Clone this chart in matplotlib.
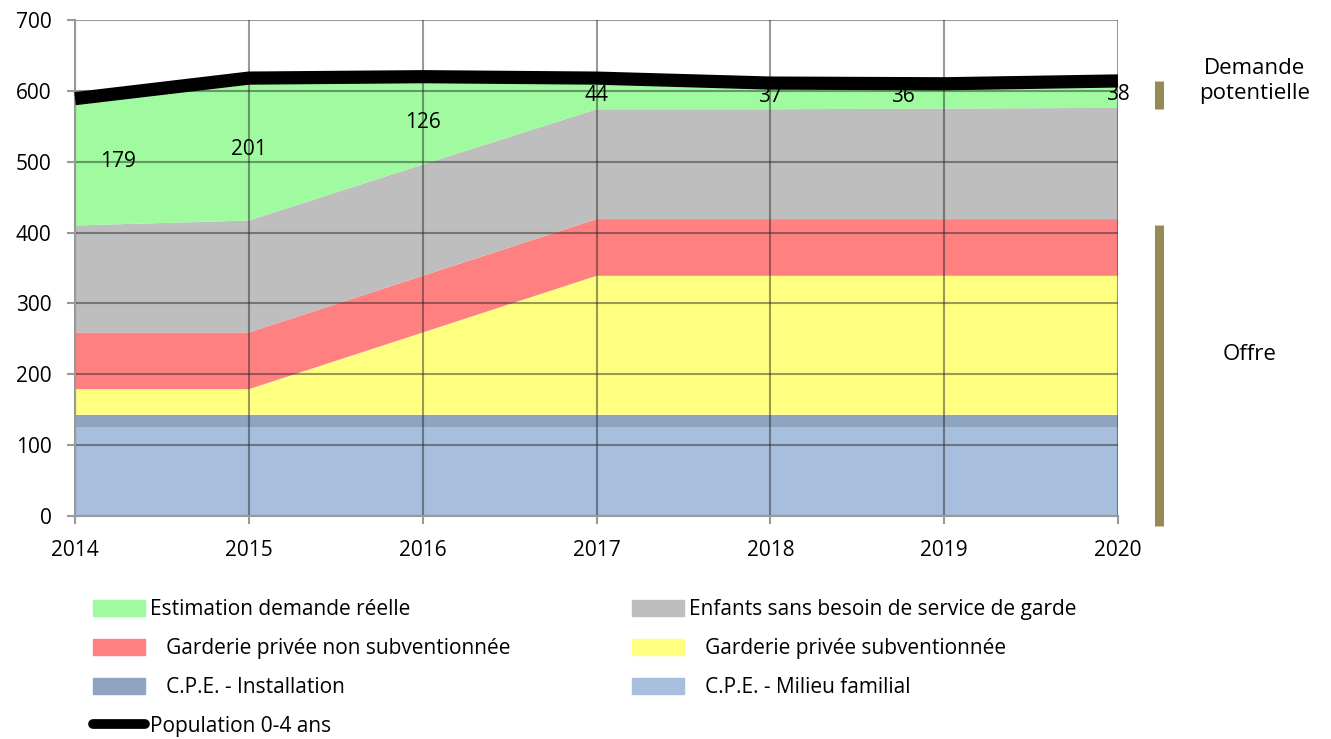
import matplotlib
matplotlib.use("Agg")
import matplotlib.pyplot as plt
import numpy as np
from matplotlib.patches import Patch
from matplotlib.lines import Line2D

plt.rcParams['font.family'] = ['Open Sans', 'DejaVu Sans']

years = [2014, 2015, 2016, 2017, 2018, 2019, 2020]
cpe_milieu = [126, 126, 126, 126, 126, 126, 126]
cpe_install = [17, 17, 17, 17, 17, 17, 17]
garderie_sub = [36, 36, 116, 196, 196, 196, 196]
garderie_nonsub = [80, 80, 80, 80, 80, 80, 80]
sans_besoin = [151, 158, 157, 155, 155, 156, 157]
demande_reelle = [179, 201, 126, 44, 37, 36, 38]
population = [589, 618, 620, 618, 611, 610, 614]

labels = ["   C.P.E. - Milieu familial", "   C.P.E. - Installation",
          "   Garderie privée subventionnée", "   Garderie privée non subventionnée",
          "Enfants sans besoin de service de garde", "Estimation demande réelle"]
colors = ["#A7BEDD", "#8EA4BF", "#FFFF80", "#FF8080", "#BEBEBE", "#A0FBA0"]

fig = plt.figure(figsize=(13.31, 7.39), dpi=100)
ax = fig.add_axes([75/1331, 1-516/739, (1118-75)/1331, (516-20)/739])

series = [cpe_milieu, cpe_install, garderie_sub, garderie_nonsub, sans_besoin, demande_reelle]
ax.stackplot(years, *series, colors=colors, zorder=1)
ax.plot(years, population, color='black', lw=9.5, solid_capstyle='butt', zorder=4, clip_on=False)

# data labels for demande réelle
label_pos = [(2014.25, 500), (2015.0, 517), (2016.0, 555), (2017.0, 594),
             (2018.0, 592), (2018.76, 592), (2020.0, 595)]
for (x, y), v in zip(label_pos, demande_reelle):
    ax.text(x, y, str(v), ha='center', va='center', fontsize=15, zorder=5)

ax.set_xlim(2014, 2020)
ax.set_ylim(0, 700)
ax.set_yticks(range(0, 701, 100))
ax.set_xticks(years)
ax.set_xticklabels([str(y) for y in years])
ax.grid(True, color='#202020', alpha=0.45, lw=1.5, zorder=3)
ax.set_axisbelow(False)
for s in ['top', 'right']:
    ax.spines[s].set_visible(False)
for s in ['left', 'bottom']:
    ax.spines[s].set_color('#999999')
    ax.spines[s].set_linewidth(1.5)
    ax.spines[s].set_zorder(3)
ax.tick_params(axis='both', direction='out', length=6, width=1.5, color='#999999', labelsize=15)
ax.tick_params(axis='y', pad=11)
ax.tick_params(axis='x', pad=11)

# right side brackets
bar_color = '#968A54'
tr = ax.get_yaxis_transform()
ax.plot([1.0395, 1.0395], [(516-82)/0.7075, (516-110)/0.7075], color=bar_color, lw=6.5,
        solid_capstyle='butt', transform=tr, clip_on=False)
ax.plot([1.0395, 1.0395], [(516-225)/0.7075, 0 - 10/0.7075], color=bar_color, lw=6.5,
        solid_capstyle='butt', transform=tr, clip_on=False)
fig.text(1255/1331, 1-81/739, "Demande\npotentielle", ha='center', va='center',
         fontsize=16, linespacing=1.2)
fig.text(1250/1331, 1-355/739, "Offre", ha='center', va='center', fontsize=16)

# legend
h1 = [
    Patch(color=colors[5], label=labels[5]),
    Patch(color=colors[3], label=labels[3]),
    Patch(color=colors[1], label=labels[1]),
    Line2D([0], [0], color='black', lw=7, solid_capstyle='round', label="Population 0-4 ans"),
]
h2 = [
    Patch(color=colors[4], label=labels[4]),
    Patch(color=colors[2], label=labels[2]),
    Patch(color=colors[0], label=labels[0]),
]
common = dict(loc='upper left', frameon=False, fontsize=15, handlelength=2.5, handleheight=0.8,
              handletextpad=0.25, labelspacing=0.86, borderaxespad=0, borderpad=0)
fig.legend(handles=h1, bbox_to_anchor=(93/1331, 1-599/739), **common)
fig.legend(handles=h2, bbox_to_anchor=(632/1331, 1-599/739), **common)

fig.savefig("out.png", dpi=100)
